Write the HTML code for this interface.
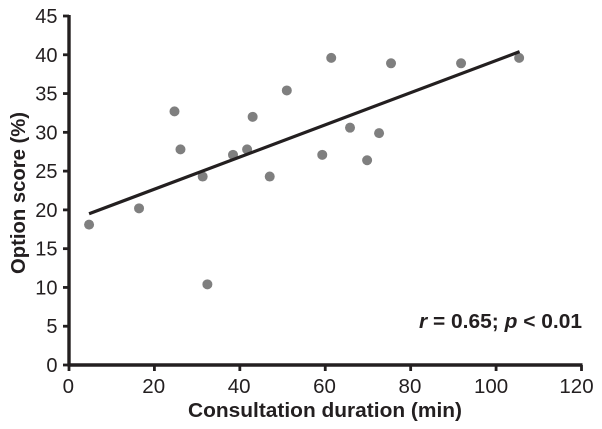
<!DOCTYPE html>
<html>
<head>
<meta charset="utf-8">
<style>
html,body{margin:0;padding:0;background:#fff;}
svg{display:block;font-family:"Liberation Sans",sans-serif;}
</style>
</head>
<body>
<svg id="chart" width="602" height="429" viewBox="0 0 602 429" xmlns="http://www.w3.org/2000/svg"></svg>
<script>
const xTicks = [0, 20, 40, 60, 80, 100, 120];
const yTicks = [0, 5, 10, 15, 20, 25, 30, 35, 40, 45];
const durations = [4.7, 16.4, 24.7, 26.1, 31.3, 32.4, 38.4, 41.7, 43, 47, 51, 59.3, 61.4, 65.8, 69.8, 72.6, 75.4, 91.8, 105.4];
const scores = [18.1, 20.2, 32.7, 27.8, 24.3, 10.4, 27.1, 27.8, 32, 24.3, 35.4, 27.1, 39.6, 30.6, 26.4, 29.9, 38.9, 38.9, 39.6];
const trendX = [4.7, 105.5];
const trendY = [19.5, 40.4];

const svg = document.getElementById('chart');
const NS = 'http://www.w3.org/2000/svg';
const sx = v => 69 + v * (581.5 - 69) / 120;
const sy = v => 365 - v * (365 - 16) / 45;
const INK = '#231f20';
function mk(tag, attrs, parent) {
  const e = document.createElementNS(NS, tag);
  for (const k in attrs) e.setAttribute(k, attrs[k]);
  (parent || svg).appendChild(e);
  return e;
}
scores.forEach((s, i) => {
  const c = mk('circle', {cx: sx(durations[i]), cy: sy(s), r: 5, fill: '#7f7f7f'});
  
  
});
const trend = mk('line', {x1: sx(trendX[0]), y1: sy(trendY[0]), x2: sx(trendX[1]), y2: sy(trendY[1]), stroke: INK, 'stroke-width': 3.2});


const yAxis = mk('line', {x1: sx(0), y1: sy(45) - 1, x2: sx(0), y2: sy(0) + 1.5, stroke: INK, 'stroke-width': 3.4});


const xAxis = mk('line', {x1: sx(0) - 1.5, y1: sy(0), x2: sx(120) + 1, y2: sy(0), stroke: INK, 'stroke-width': 3.4});


yTicks.forEach(v => {
  const t = mk('line', {x1: sx(0) - 6, y1: sy(v), x2: sx(0), y2: sy(v), stroke: INK, 'stroke-width': 2.8});
  
  
  const l = mk('text', {x: 57.5, y: sy(v) + 7, 'text-anchor': 'end', 'font-size': 20, fill: INK});
  
  
  l.textContent = v;
});
xTicks.forEach(v => {
  const t = mk('line', {x1: sx(v), y1: sy(0), x2: sx(v), y2: sy(0) + 6, stroke: INK, 'stroke-width': 2.8});
  
  
  const l = mk('text', {x: sx(v) - (v >= 100 ? 5 : 0.7), y: 393, 'text-anchor': 'middle', 'font-size': 20.5, fill: INK});
  
  
  l.textContent = v;
});
const xt = mk('text', {x: 188, y: 417, 'font-size': 20.5, 'font-weight': 'bold', fill: INK, textLength: 274, lengthAdjust: 'spacingAndGlyphs'});


xt.textContent = 'Consultation duration (min)';
const yt = mk('text', {transform: 'translate(25,274) rotate(-90)', 'font-size': 20.5, 'font-weight': 'bold', fill: INK, textLength: 162, lengthAdjust: 'spacingAndGlyphs'});


yt.textContent = 'Option score (%)';
const an = mk('text', {x: 419, y: 328, 'font-size': 20, 'font-weight': 'bold', fill: INK, textLength: 163, lengthAdjust: 'spacingAndGlyphs'});


an.innerHTML = '<tspan font-style="italic">r</tspan> = 0.65; <tspan font-style="italic">p</tspan> &lt; 0.01';
</script>
</body>
</html>
